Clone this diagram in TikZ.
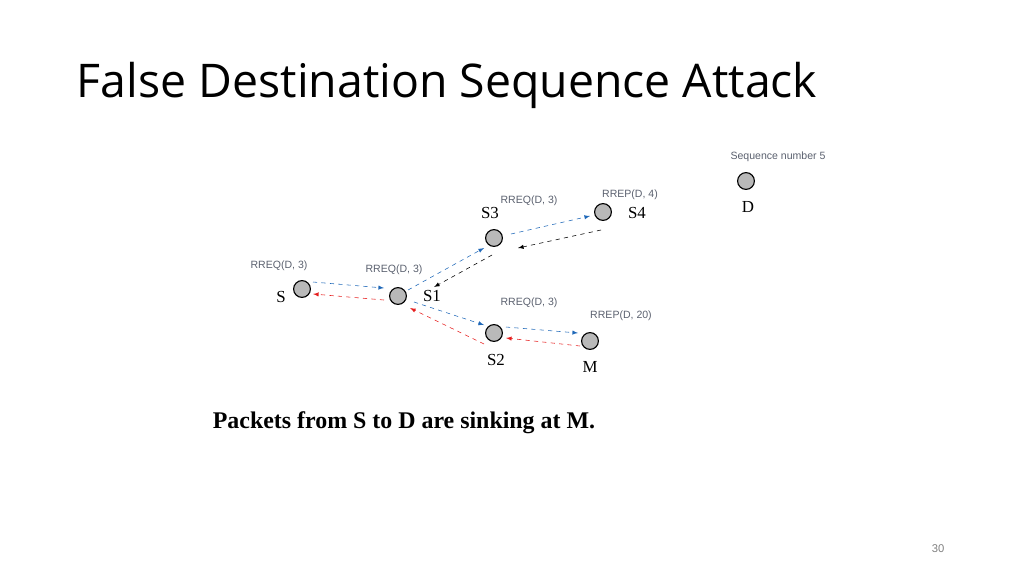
\documentclass[tikz,border=0pt]{standalone}
\usepackage{fontspec}
\setmainfont{Liberation Serif}
\newfontfamily\titlefont{Open Sans}
\newfontfamily\labelfont{Liberation Sans}
\usetikzlibrary{positioning}
\definecolor{reqblue}{RGB}{31,104,184}
\definecolor{repred}{RGB}{230,30,30}
\definecolor{msggray}{RGB}{90,96,110}
\tikzset{
  host/.style={circle,draw=black,fill=gray!55,minimum size=0.42cm,inner sep=0pt,thick},
  hostlabel/.style={font=\fontsize{12}{14}\selectfont},
  msg/.style={font=\labelfont\fontsize{7.5}{9}\selectfont,text=msggray},
  req/.style={reqblue,dashed,thin,-latex},
  rep/.style={repred,dashed,thin,-latex},
  back/.style={black,dashed,thin,-latex}
}
\begin{document}
\begin{tikzpicture}[x=0.025cm,y=-0.025cm]
\useasboundingbox (0,0) rectangle (1024,575);
\node[anchor=west,font=\titlefont\fontsize{33}{38}\selectfont] (title) at (72,85) {False Destination Sequence Attack};
% hosts
\node[host] (S) at (302,289) {};
\node[host] (S1) at (398,296) {};
\node[host] (S3) at (494,238) {};
\node[host] (S4) at (603,212) {};
\node[host] (S2) at (494,333) {};
\node[host] (M) at (590,341) {};
\node[host] (D) at (746,181) {};
\node[hostlabel] (lS) at (281,297) {S};
\node[hostlabel] (lS1) at (432,296) {S1};
\node[hostlabel] (lS3) at (490,213) {S3};
\node[hostlabel] (lS4) at (637,213) {S4};
\node[hostlabel] (lS2) at (496,360) {S2};
\node[hostlabel] (lM) at (590,367) {M};
\node[hostlabel] (lD) at (748,207) {D};
% messages
\node[msg] (m1) at (279,266) {RREQ(D, 3)};
\node[msg] (m2) at (394,270) {RREQ(D, 3)};
\node[msg] (m3) at (529,201) {RREQ(D, 3)};
\node[msg] (m4) at (630,195) {RREP(D, 4)};
\node[msg] (m5) at (529,303) {RREQ(D, 3)};
\node[msg] (m6) at (621,316) {RREP(D, 20)};
\node[msg] (seq) at (778,157) {Sequence number 5};
% arrows
\draw[req] ([shift={(11,-7)}]S.center) -- ([shift={(-14,-8)}]S1.center);
\draw[rep] ([shift={(-14,4)}]S1.center) -- ([shift={(11,5)}]S.center);
\draw[req] ([shift={(10,-6)}]S1.center) -- ([shift={(-10,10)}]S3.center);
\draw[back] ([shift={(-2,17)}]S3.center) -- ([shift={(36,-9)}]S1.center);
\draw[req] ([shift={(17,-4)}]S3.center) -- ([shift={(-13,4)}]S4.center);
\draw[back] ([shift={(-2,18)}]S4.center) -- ([shift={(24,10)}]S3.center);
\draw[req] ([shift={(16,6)}]S1.center) -- ([shift={(-10,-8)}]S2.center);
\draw[rep] ([shift={(-10,11)}]S2.center) -- ([shift={(12,12)}]S1.center);
\draw[req] ([shift={(12,-6)}]S2.center) -- ([shift={(-12,-8)}]M.center);
\draw[rep] ([shift={(-10,5)}]M.center) -- ([shift={(12,5)}]S2.center);
\node[font=\bfseries\fontsize{17}{20}\selectfont] (caption) at (404,423) {Packets from S to D are sinking at M.};
\node[font=\labelfont\fontsize{8}{10}\selectfont,text=gray] (page) at (938,549) {30};
\end{tikzpicture}
\end{document}
